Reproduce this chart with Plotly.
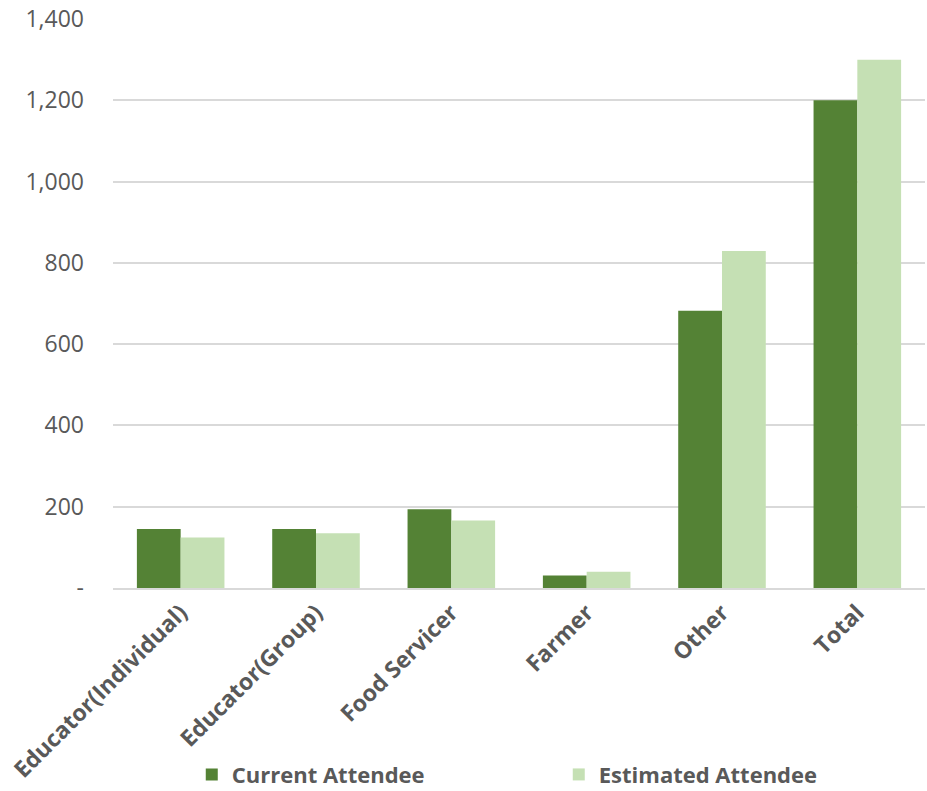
import plotly.graph_objects as go

categories = ["Educator(Individual)", "Educator(Group)", "Food Servicer", "Farmer", "Other", "Total"]
current = [145, 145, 194, 31, 682, 1200]
estimated = [124, 135, 166, 40, 829, 1300]
ytick_vals = [0, 200, 400, 600, 800, 1000, 1200, 1400]
ytick_text = ["-", "200", "400", "600", "800", "1,000", "1,200", "1,400"]

FONT = "Open Sans"
GRAY = "#595959"

fig = go.Figure()
fig.add_trace(go.Bar(x=categories, y=current, name="Current Attendee",
                     marker=dict(color="#548235", line=dict(width=0))))
fig.add_trace(go.Bar(x=categories, y=estimated, name="Estimated Attendee",
                     marker=dict(color="#C5E0B4", line=dict(width=0))))

fig.update_layout(
    width=927, height=791,
    margin=dict(l=113, r=2, t=19, b=203, autoexpand=False),
    paper_bgcolor="white", plot_bgcolor="white",
    barmode="group", bargap=0.353, bargroupgap=0,
    font=dict(family=FONT, color=GRAY),
    showlegend=True,
    legend=dict(orientation="h", x=0.097, xanchor="left", y=-0.328, yanchor="middle",
                font=dict(family=FONT, size=22, color=GRAY, weight="bold"),
                entrywidth=322, entrywidthmode="pixels",
                bgcolor="rgba(0,0,0,0)"),
    xaxis=dict(tickangle=-45, tickfont=dict(family=FONT, size=23, color=GRAY, weight="bold"),
               showline=True, linecolor="#D9D9D9", linewidth=2, ticks="",
               showgrid=False, automargin=False),
    yaxis=dict(range=[0, 1400], tickvals=ytick_vals, ticktext=ytick_text,
               tickfont=dict(family=FONT, size=23, color=GRAY),
               showgrid=True, gridcolor="#D9D9D9", gridwidth=1.5,
               zeroline=False, showline=False, ticks="",
               ticklabelstandoff=28, automargin=False),
)

fig.write_html("out.html")
